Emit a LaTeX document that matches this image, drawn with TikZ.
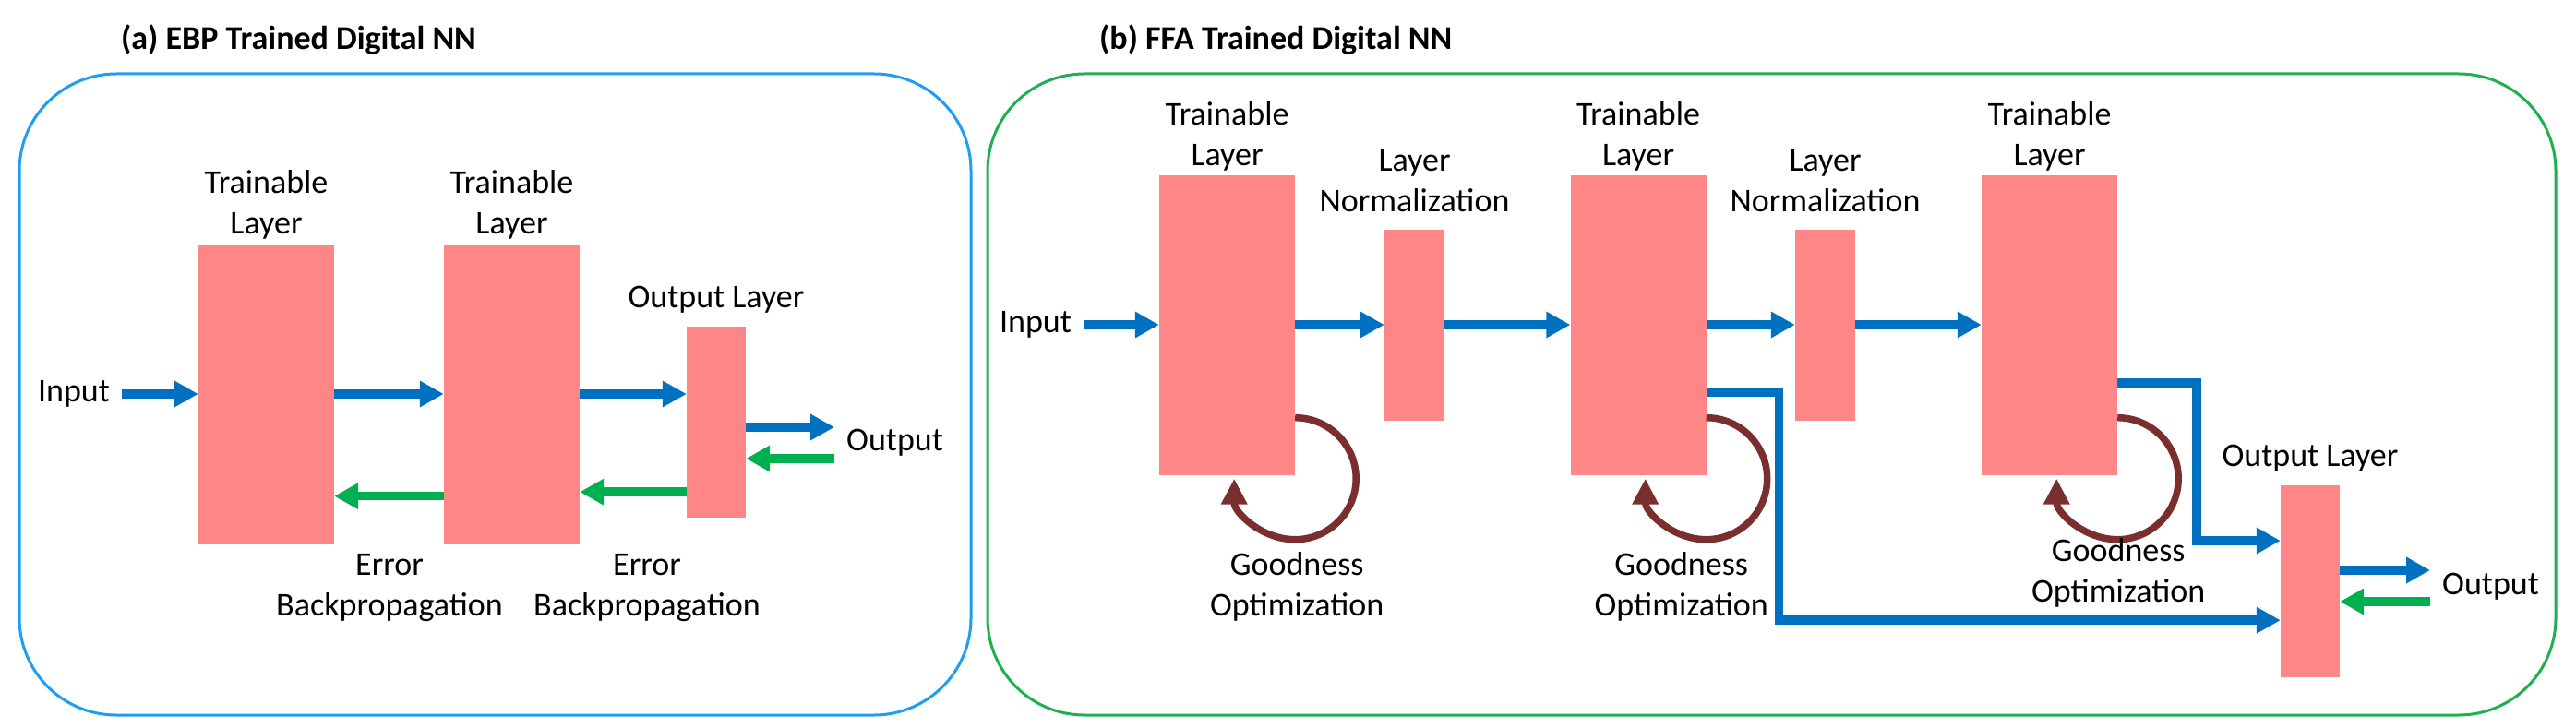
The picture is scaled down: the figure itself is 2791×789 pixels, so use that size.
\documentclass[tikz,border=0pt]{standalone}
\usepackage{fontspec}
\setmainfont{Carlito}
\usetikzlibrary{positioning,calc,arrows.meta}
\definecolor{layerred}{RGB}{255,134,134}
\definecolor{flowblue}{RGB}{0,112,192}
\definecolor{backgreen}{RGB}{0,176,80}
\definecolor{goodred}{RGB}{122,46,46}
\definecolor{frameblue}{RGB}{30,158,242}
\definecolor{framegreen}{RGB}{30,176,80}
\begin{document}
\begin{tikzpicture}[x=1pt,y=-1pt,auto]
		\tikzstyle{layer}=[rectangle,fill=layerred,inner sep=0pt]
		\tikzstyle{trainable}=[layer,minimum width=147pt,minimum height=325pt]
		\tikzstyle{norm}=[layer,minimum width=65pt,minimum height=207pt]
		\tikzstyle{lbl}=[font=\fontsize{36}{44}\selectfont,align=center,inner sep=0pt]
		\tikzstyle{io}=[lbl,inner sep=13pt]
		\tikzstyle{ttl}=[font=\fontsize{36}{42}\selectfont\bfseries,anchor=west,inner sep=0pt]
		\tikzstyle{flow}=[-{Triangle[length=26pt,width=27pt]},line width=9.5pt,flowblue]
		\tikzstyle{back}=[-{Triangle[length=26pt,width=27pt]},line width=9.5pt,backgreen]
		\tikzstyle{selfopt}=[-{Triangle[length=28pt,width=27pt]},line width=7.5pt,goodred]
		\tikzstyle{frame}=[line width=3pt,rounded corners=105pt]
		\useasboundingbox (0,0) rectangle (2791,789);
		% (a) error backpropagation
		\draw[frame,frameblue] (21,80) rectangle (1052,775);
		\node[ttl] (titlea) at (131,43) {(a) EBP Trained Digital NN};
		\node[trainable] (a1) at (288.5,427) {};
		\node[trainable] (a2) at (554.5,427) {};
		\node[layer,minimum width=64pt,minimum height=207pt] (ao) at (776,457.5) {};
		\node[lbl] [above=5pt of a1] {Trainable\\Layer};
		\node[lbl] [above=5pt of a2] {Trainable\\Layer};
		\node[lbl] [above=14pt of ao] {Output Layer};
		\node[io] (ina) at (80,427) {Input};
		\node[io,anchor=west] (outa) at (904,480) {Output};
		\node[lbl] (erra) at (422,637) {Error\\Backpropagation};
		\node[lbl] (errb) at (701,637) {Error\\Backpropagation};
		\draw[flow] (ina) -- (a1);
		\draw[flow] (a1) -- (a2);
		\draw[flow] (a2) -- (a2 -| ao.west);
		\draw[flow] ($(ao.east)+(0,5.5)$) -- ($(outa.west)+(0,-17)$);
		\draw[back] ($(outa.west)+(0,17)$) -- ($(ao.east)+(0,39.5)$);
		\coordinate (ea2) at ($(ao.south west)+(0,-28)$);
		\draw[back] (ea2) -- (ea2 -| a2.east);
		\coordinate (ea1) at ($(a2.south west)+(0,-52)$);
		\draw[back] (ea1) -- (ea1 -| a1.east);
		% (b) forward-forward
		\draw[frame,framegreen] (1070,80) rectangle (2769,775);
		\node[ttl] (titleb) at (1191,43) {(b) FFA Trained Digital NN};
		\node[trainable] (t1) at (1329.5,352) {};
		\node[norm] (n1) at (1532.5,352) {};
		\node[trainable] (t2) at (1775,352) {};
		\node[norm] (n2) at (1977.5,352) {};
		\node[trainable] (t3) at (2220.5,352) {};
		\node[layer,minimum width=64pt,minimum height=208pt] (bo) at (2503,630) {};
		\foreach \t in {t1,t2,t3}
			\node[lbl] [above=4pt of \t] {Trainable\\Layer};
		\foreach \n in {n1,n2}
			\node[lbl] [above=18pt of \n] {Layer\\Normalization};
		\node[lbl] [above=14pt of bo] {Output Layer};
		\node[io] (inb) at (1122,352) {Input};
		\node[io,anchor=west] (outb) at (2633,636) {Output};
		\foreach \u/\v in {inb/t1,t1/n1,n1/t2,t2/n2,n2/t3}
			\draw[flow] (\u) -- (\v);
		\draw[flow] ($(t2.east)+(0,73)$) -- ++(79,0) |- ($(bo.south west)+(0,-62)$);
		\draw[flow] ($(t3.east)+(0,63)$) -- ++(86,0) |- ($(bo.west)+(0,-44)$);
		\draw[flow] ($(bo.east)+(0,-12)$) -- ($(outb.west)+(0,-18)$);
		\draw[back] ($(outb.west)+(0,16)$) -- ($(bo.east)+(0,22)$);
		\foreach \t in {t1,t2,t3}
			\draw[selfopt] ($(\t.south east)+(0,-62)$) arc[start angle=90,end angle=-180,radius=66pt];
		\node[lbl] (good1) at ($(t1.south east)+(2,121)$) {Goodness\\Optimization};
		\node[lbl] (good2) at ($(t2.south east)+(-27,121)$) {Goodness\\Optimization};
		\node[lbl] (good3) at ($(t3.south east)+(1,106)$) {Goodness\\Optimization};
\end{tikzpicture}
\end{document}
